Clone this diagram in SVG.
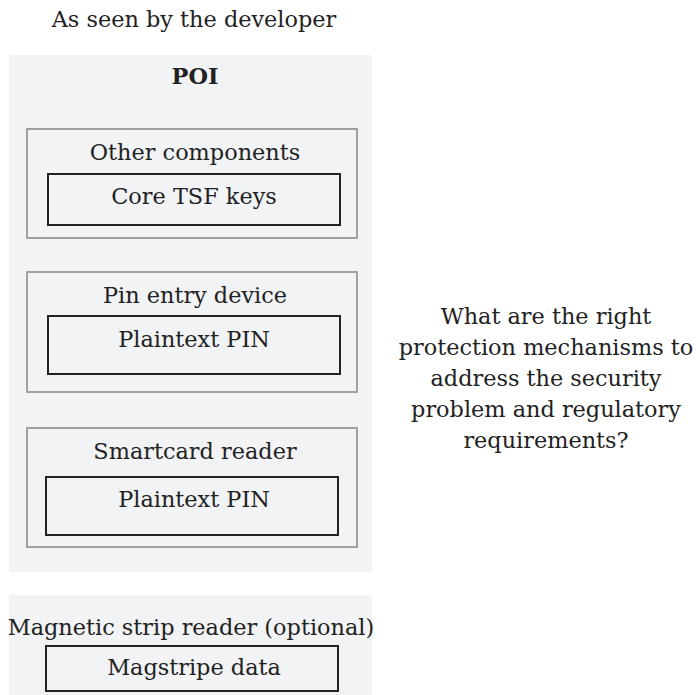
<svg xmlns="http://www.w3.org/2000/svg" width="696" height="695" viewBox="0 0 696 695">
<style>
text{font-family:"DejaVu Serif","Liberation Serif",serif;font-size:22.4px;fill:#222;text-anchor:middle}
.panel{fill:#f2f3f5}
.outer{fill:none;stroke:#a0a0a0;stroke-width:2}
.inner{fill:none;stroke:#222;stroke-width:2}
.b{font-weight:bold}
</style>
<rect width="696" height="695" fill="#fff"/>
<text x="194" y="27">As seen by the developer</text>
<g id="poi">
<rect class="panel" x="9" y="55" width="363" height="517"/>
<text class="b" x="195" y="84">POI</text>
</g>
<g id="other">
<rect class="outer" x="27" y="129" width="330" height="109"/>
<text x="195" y="160">Other components</text>
</g>
<g id="coretsf">
<rect class="inner" x="48" y="174" width="292" height="51"/>
<text x="194" y="204">Core TSF keys</text>
</g>
<g id="ped">
<rect class="outer" x="27" y="272" width="330" height="120"/>
<text x="195" y="303">Pin entry device</text>
</g>
<g id="pin1">
<rect class="inner" x="48" y="316" width="292" height="58"/>
<text x="194" y="347">Plaintext PIN</text>
</g>
<g id="scr">
<rect class="outer" x="27" y="428" width="330" height="119"/>
<text x="195" y="459">Smartcard reader</text>
</g>
<g id="pin2">
<rect class="inner" x="46" y="477" width="292" height="58"/>
<text x="194" y="507">Plaintext PIN</text>
</g>
<g id="msr">
<rect class="panel" x="9" y="595" width="363" height="100"/>
<text x="191" y="635">Magnetic strip reader (optional)</text>
</g>
<g id="magdata">
<rect class="inner" x="46" y="646" width="292" height="45"/>
<text x="194" y="675">Magstripe data</text>
</g>
<g id="question">
<text x="546" y="324">What are the right</text>
<text x="546" y="355">protection mechanisms to</text>
<text x="546" y="386">address the security</text>
<text x="546" y="417">problem and regulatory</text>
<text x="546" y="448">requirements?</text>
</g>
<g id="connectors"></g>
</svg>
